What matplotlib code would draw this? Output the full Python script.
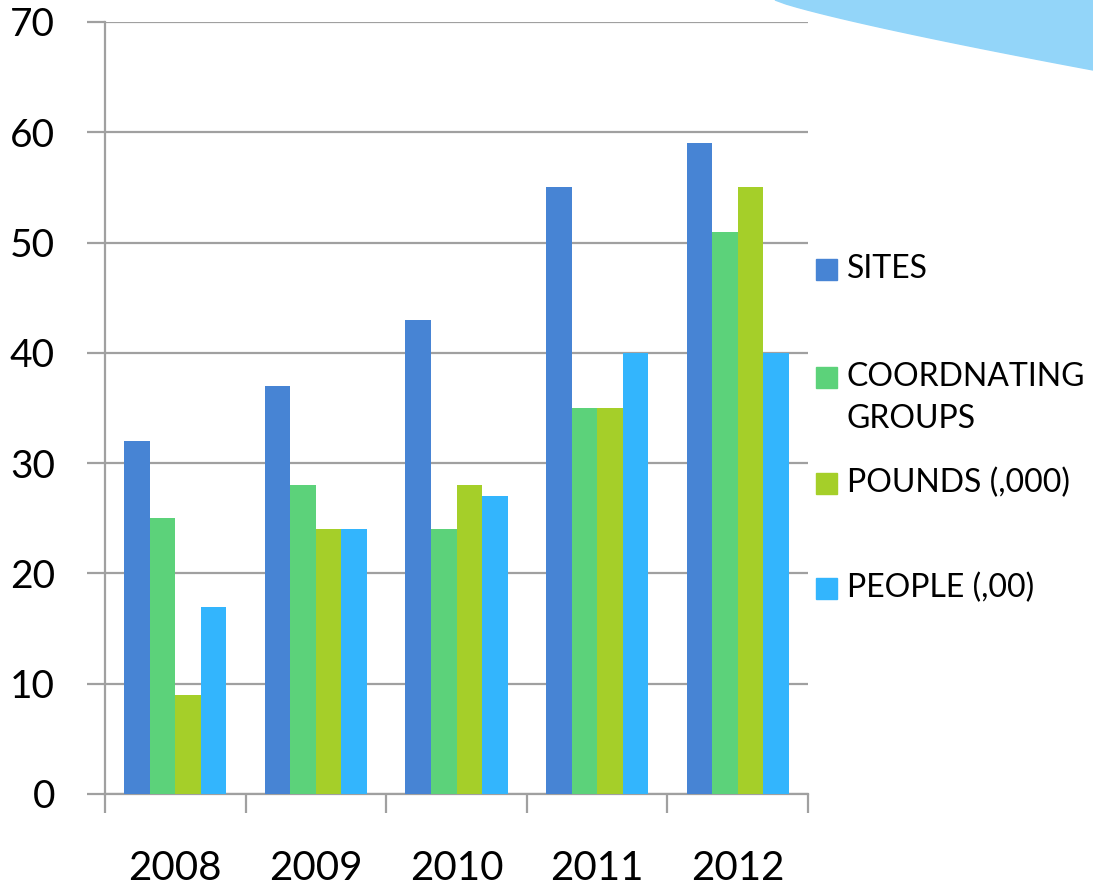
import numpy as np
import matplotlib.pyplot as plt
from matplotlib.patches import Polygon, Rectangle

plt.rcParams['font.family'] = ['Lato', 'DejaVu Sans']

# Data
years = ['2008', '2009', '2010', '2011', '2012']
series_names = ['SITES', 'COORDNATING\nGROUPS', 'POUNDS (,000)', 'PEOPLE (,00)']
sites = [32, 37, 43, 55, 59]
coord_groups = [25, 28, 24, 35, 51]
pounds = [9, 24, 28, 35, 55]
people = [17, 24, 27, 40, 40]
y_ticks = [0, 10, 20, 30, 40, 50, 60, 70]

colors = ['#4784D4', '#5CD27A', '#A5CF29', '#33B5FD']
series = [sites, coord_groups, pounds, people]

W, H = 1093, 891
fig = plt.figure(figsize=(W / 100, H / 100), dpi=100)
ax = fig.add_axes([105 / W, 1 - 794 / H, (808 - 105) / W, (794 - 22) / H])

x = np.arange(len(years))
bar_w = 0.182
for i, (vals, col) in enumerate(zip(series, colors)):
    ax.bar(x + (i - 1.5) * bar_w, vals, width=bar_w, color=col, zorder=3)

ax.set_xlim(-0.5, len(years) - 0.5)
ax.set_ylim(0, 70)

grid_col = '#A0A0A0'
ax.set_yticks(y_ticks)
ax.set_yticklabels([str(v) for v in y_ticks], fontsize=28)
ax.yaxis.grid(True, color=grid_col, linewidth=1.6, zorder=0)
ax.tick_params(axis='y', length=13, width=1.6, color=grid_col, pad=23, direction='out')

ax.set_xticks(x)
ax.set_xticklabels(years, fontsize=29)
ax.set_xticks(np.arange(len(years) + 1) - 0.5, minor=True)
ax.tick_params(axis='x', which='major', length=0, pad=40)
ax.tick_params(axis='x', which='minor', length=14, width=1.6, color=grid_col, direction='out')

for s in ['top', 'right']:
    ax.spines[s].set_visible(False)
for s in ['left', 'bottom']:
    ax.spines[s].set_color(grid_col)
    ax.spines[s].set_linewidth(1.6)

# legend drawn by hand to follow the original placement
leg_y = [269, 377, 483, 588]
for name, col, yy in zip(series_names, colors, leg_y):
    fig.patches.append(Rectangle((816 / W, 1 - (yy + 10.5) / H), 21 / W, 21 / H,
                                 transform=fig.transFigure, color=col))
    ty = yy + 21.5 if '\n' in name else yy
    fig.text(847 / W, 1 - ty / H, name, fontsize=23, va='center',
             ha='left', linespacing=1.5)

# decorative swoosh in top-right corner
xs = np.linspace(775, 1093, 30)
ys = 70 * ((xs - 775) / 318) ** 0.85
pts = [(xx / W, 1 - yy / H) for xx, yy in zip(xs, ys)] + [(1, 1)]
fig.patches.append(Polygon(pts, closed=True, transform=fig.transFigure,
                           color='#93D5F9', zorder=0))

fig.savefig('out.png', dpi=100)
